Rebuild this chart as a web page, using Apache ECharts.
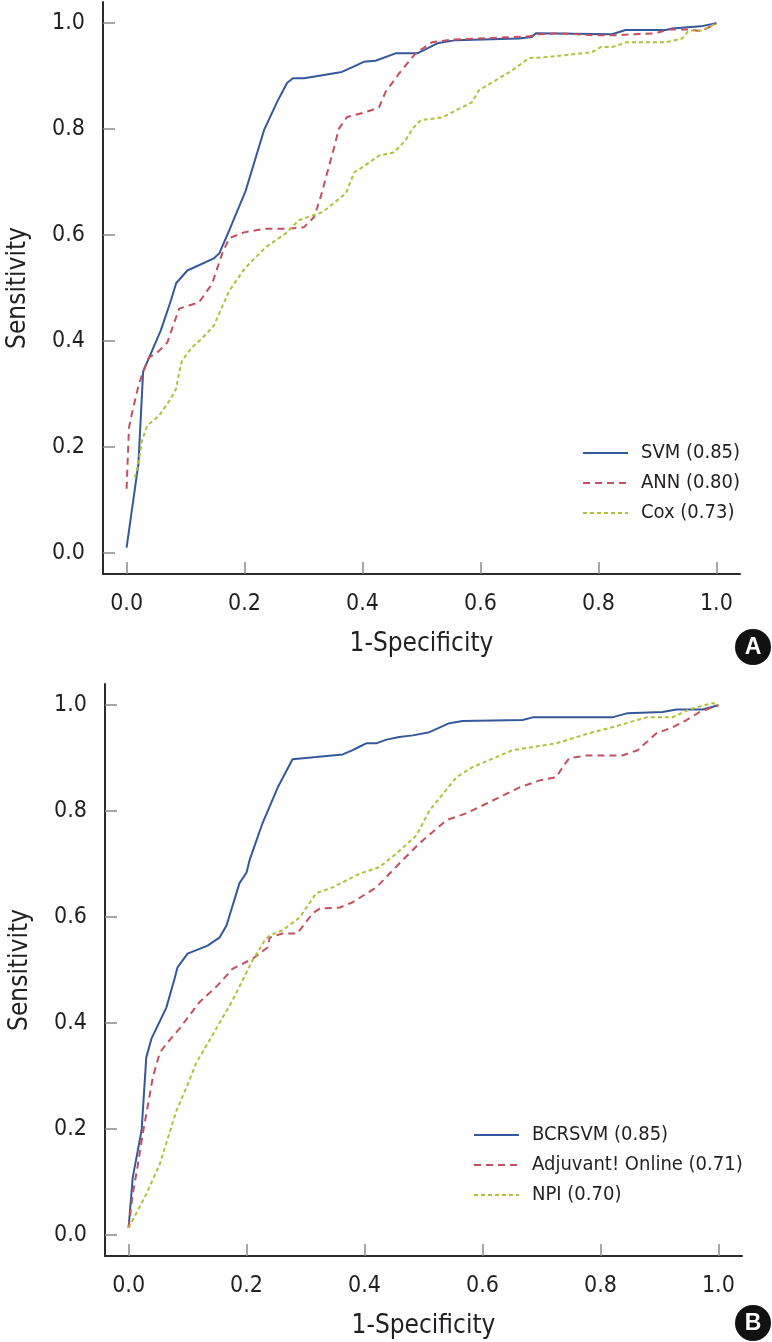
<!DOCTYPE html>
<html>
<head>
<meta charset="utf-8">
<script src="https://cdn.jsdelivr.net/npm/echarts@6/dist/echarts.min.js"></script>
<style>
html,body{margin:0;padding:0;background:#fff;}
#chart{width:772px;height:1342px;}
</style>
</head>
<body>
<div id="chart"></div>
<script>
// ---------- Data ----------
const tickValues = [0, 0.2, 0.4, 0.6, 0.8, 1.0];

// Panel A
const namesA = ['SVM (0.85)', 'ANN (0.80)', 'Cox (0.73)'];
const svmA_x = [0,0.02,0.028,0.058,0.075,0.084,0.103,0.148,0.157,0.174,0.202,0.233,0.255,0.272,0.282,0.301,0.365,0.383,0.402,0.422,0.456,0.493,0.527,0.558,0.665,0.687,0.694,0.823,0.846,0.914,0.925,0.973,1.0];
const svmA_y = [0.01,0.168,0.342,0.42,0.476,0.509,0.533,0.556,0.565,0.609,0.684,0.798,0.851,0.887,0.896,0.896,0.908,0.917,0.927,0.929,0.943,0.943,0.962,0.968,0.971,0.974,0.981,0.979,0.987,0.987,0.99,0.994,1.0];
const annA_x = [0,0.004,0.01,0.021,0.03,0.038,0.052,0.069,0.089,0.106,0.123,0.145,0.162,0.174,0.199,0.236,0.275,0.301,0.318,0.329,0.352,0.36,0.374,0.405,0.428,0.439,0.462,0.49,0.518,0.552,0.682,0.699,0.733,0.795,0.823,0.897,0.919,0.953,0.975,1.0];
const annA_y = [0.121,0.236,0.268,0.319,0.348,0.369,0.378,0.397,0.461,0.467,0.473,0.508,0.565,0.594,0.605,0.612,0.612,0.615,0.634,0.672,0.766,0.801,0.823,0.832,0.841,0.87,0.905,0.943,0.964,0.969,0.975,0.979,0.981,0.977,0.977,0.981,0.988,0.988,0.985,1.0];
const coxA_x = [0.014,0.02,0.026,0.035,0.055,0.075,0.084,0.089,0.094,0.111,0.128,0.148,0.174,0.202,0.236,0.27,0.292,0.315,0.332,0.372,0.386,0.405,0.428,0.453,0.473,0.485,0.499,0.535,0.586,0.597,0.654,0.682,0.711,0.789,0.804,0.823,0.848,0.914,0.942,0.953,0.975,1.0];
const coxA_y = [0.142,0.168,0.212,0.24,0.259,0.291,0.31,0.34,0.363,0.388,0.405,0.429,0.495,0.539,0.577,0.603,0.628,0.637,0.643,0.679,0.718,0.732,0.75,0.756,0.779,0.801,0.817,0.822,0.851,0.873,0.911,0.934,0.936,0.945,0.955,0.955,0.964,0.964,0.971,0.986,0.986,1.0];

// Panel B
const namesB = ['BCRSVM (0.85)', 'Adjuvant! Online (0.71)', 'NPI (0.70)'];
const bcrB_x = [0,0.007,0.022,0.03,0.039,0.064,0.078,0.083,0.1,0.134,0.154,0.166,0.188,0.2,0.205,0.227,0.253,0.278,0.318,0.363,0.38,0.392,0.403,0.42,0.437,0.459,0.482,0.51,0.544,0.566,0.668,0.685,0.82,0.846,0.905,0.929,0.973,1.0];
const bcrB_y = [0.013,0.108,0.197,0.335,0.371,0.429,0.484,0.505,0.531,0.546,0.561,0.584,0.664,0.684,0.707,0.777,0.845,0.898,0.902,0.907,0.915,0.922,0.928,0.928,0.935,0.94,0.943,0.949,0.966,0.97,0.972,0.977,0.977,0.985,0.987,0.992,0.992,1.0];
const adjB_x = [0,0.007,0.015,0.024,0.032,0.041,0.053,0.066,0.086,0.12,0.151,0.176,0.21,0.236,0.239,0.261,0.286,0.312,0.324,0.358,0.38,0.42,0.459,0.493,0.539,0.573,0.612,0.663,0.697,0.725,0.736,0.747,0.776,0.837,0.863,0.895,0.922,0.946,0.968,1.0];
const adjB_y = [0.013,0.077,0.127,0.191,0.24,0.297,0.344,0.363,0.389,0.439,0.471,0.502,0.521,0.543,0.561,0.569,0.569,0.607,0.616,0.618,0.628,0.656,0.701,0.739,0.783,0.796,0.817,0.845,0.858,0.864,0.883,0.9,0.905,0.905,0.915,0.947,0.958,0.972,0.987,1.0];
const npiB_x = [0,0.03,0.053,0.081,0.098,0.115,0.137,0.176,0.21,0.231,0.239,0.261,0.29,0.318,0.346,0.392,0.425,0.454,0.488,0.51,0.556,0.583,0.651,0.725,0.781,0.832,0.878,0.922,0.951,0.99,1.0];
const npiB_y = [0.013,0.077,0.134,0.234,0.278,0.325,0.367,0.442,0.518,0.556,0.565,0.575,0.599,0.645,0.656,0.682,0.694,0.72,0.754,0.801,0.864,0.883,0.915,0.928,0.947,0.962,0.977,0.977,0.992,1.004,1.0];

// ---------- Styling ----------
const FONT = "'Liberation Sans Narrow','DejaVu Sans Condensed','Arial Narrow',sans-serif";
const TXT = '#231f20';
const C_BLUE = '#34589a';
const C_RED = '#c4505f';
const C_GREEN = '#b4bf3c';

function zip(xs, ys){ return xs.map((x,i)=>[x, ys[i]]); }

function xAxisFor(gi){
  return {
    type:'value', gridIndex:gi, min:-0.04, max:1.04,
    name:'1-Specificity', nameLocation:'middle', nameGap:57,
    nameTextStyle:{fontFamily:FONT, fontSize:26, color:TXT},
    axisLine:{show:true, onZero:false, lineStyle:{color:'#2b2b2b', width:2}},
    axisTick:{show:true, inside:true, length:12, customValues:tickValues, lineStyle:{color:'#8a8a8a', width:1.5}},
    axisLabel:{show:true, margin:19, customValues:tickValues, fontFamily:FONT, fontSize:23, color:TXT,
      formatter:v=>v.toFixed(1)},
    splitLine:{show:false}
  };
}
function yAxisFor(gi){
  return {
    type:'value', gridIndex:gi, min:-0.04, max:1.04,
    name:'Sensitivity', nameLocation:'middle', nameGap:72, nameRotate:90,
    nameTextStyle:{fontFamily:FONT, fontSize:26, color:TXT},
    axisLine:{show:true, onZero:false, lineStyle:{color:'#2b2b2b', width:2}},
    axisTick:{show:true, inside:true, length:12, customValues:tickValues, lineStyle:{color:'#8a8a8a', width:1.5}},
    axisLabel:{show:true, margin:18, customValues:tickValues, fontFamily:FONT, fontSize:23, color:TXT,
      formatter:v=>v.toFixed(1)},
    splitLine:{show:false}
  };
}
function lineSeries(name, gi, xs, ys, color, type){
  return {
    type:'line', name:name, xAxisIndex:gi, yAxisIndex:gi,
    data:zip(xs, ys), symbol:'none', smooth:false, clip:false,
    lineStyle:{color:color, width:2, type:type},
    itemStyle:{color:color},
    emphasis:{disabled:true}, animation:false
  };
}
function legendFor(names, left, top){
  return {
    data:names, orient:'vertical', left:left, top:top,
    itemWidth:45, itemHeight:22, itemGap:8,
    itemStyle:{opacity:0},
    textStyle:{fontFamily:FONT, fontSize:20, color:TXT, lineHeight:22, padding:[0,0,0,8]},
    selectedMode:false
  };
}

const chart = echarts.init(document.getElementById('chart'), null, {renderer:'canvas'});
chart.setOption({
  animation:false,
  backgroundColor:'#ffffff',
  grid:[
    {left:103, top:2, width:637, height:572, outerBoundsMode:'none', containLabel:false},
    {left:105, top:684, width:637, height:572, outerBoundsMode:'none', containLabel:false}
  ],
  xAxis:[xAxisFor(0), xAxisFor(1)],
  yAxis:[yAxisFor(0), yAxisFor(1)],
  legend:[
    legendFor(namesA, 577, 437),
    legendFor(namesB, 468, 1119)
  ],
  series:[
    lineSeries(namesA[0], 0, svmA_x, svmA_y, C_BLUE, 'solid'),
    lineSeries(namesA[1], 0, annA_x, annA_y, C_RED, [7,5]),
    lineSeries(namesA[2], 0, coxA_x, coxA_y, C_GREEN, [4,3]),
    lineSeries(namesB[0], 1, bcrB_x, bcrB_y, C_BLUE, 'solid'),
    lineSeries(namesB[1], 1, adjB_x, adjB_y, C_RED, [7,5]),
    lineSeries(namesB[2], 1, npiB_x, npiB_y, C_GREEN, [4,3])
  ],
  graphic:[
    {type:'group', left:735, top:629, children:[
      {type:'circle', shape:{cx:18, cy:18, r:18}, style:{fill:'#111'}},
      {type:'text', x:18, y:19, style:{text:'A', fill:'#fff', font:"bold 23px 'Liberation Sans', Arial, sans-serif", align:'center', verticalAlign:'middle'}}
    ]},
    {type:'group', left:735, top:1305, children:[
      {type:'circle', shape:{cx:18, cy:18, r:18}, style:{fill:'#111'}},
      {type:'text', x:18, y:19, style:{text:'B', fill:'#fff', font:"bold 23px 'Liberation Sans', Arial, sans-serif", align:'center', verticalAlign:'middle'}}
    ]}
  ]
});
</script>
</body>
</html>
